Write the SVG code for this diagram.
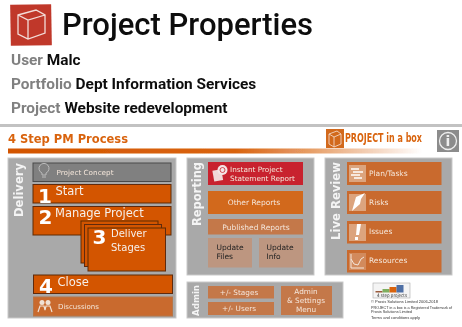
<svg xmlns="http://www.w3.org/2000/svg" width="462" height="327" viewBox="0 0 462 327">
<defs>
<linearGradient id="bar" x1="0" x2="1" y1="0" y2="0"><stop offset="0" stop-color="#d35400"/><stop offset="0.55" stop-color="#d9640f"/><stop offset="1" stop-color="#d35400" stop-opacity="0"/></linearGradient>
<filter id="soft" x="-2%" y="-2%" width="104%" height="104%"><feGaussianBlur stdDeviation="0.5"/></filter>
</defs>
<style>
text{font-family:"DejaVu Sans","Liberation Sans",sans-serif}
.head{font-family:Roboto,"Liberation Sans",sans-serif;font-weight:700}
.g{fill:#808080}.k{fill:#111}
.panel{fill:#a9a9a9;stroke:#c9c9c9;stroke-width:1}
.side{fill:#f4f4f4;font-weight:700;font-size:12px}
.dark{fill:#d35400;stroke:#5e2a08;stroke-width:1}
.soft{fill:#c4784a}
.tan{fill:#bd9680}
.lbl{fill:#f4e6da;font-size:8px}
.s7{font-size:7px}
.big{font-size:11.500px;fill:#f6f0ea}
.num{font-family:"DejaVu Sans";font-weight:700;fill:#fff;font-size:20px}
.ico{fill:none;stroke:#f4e6da;stroke-width:1}
.tiny{font-family:"Liberation Sans",sans-serif;font-size:4px;fill:#333}
</style>
<g filter="url(#soft)">
<g id="header">
<g id="logo"><rect x="10.500" y="4.500" width="41" height="41" fill="#c0392b" transform="rotate(-1 31 25)"/>
<path d="M18 15 L36 10 L45 15 L45 33 L28 39 L18 34Z M18 15 L28 20 L45 15 M28 20 L28 39" fill="none" stroke="#f3dcd8" stroke-width="1.300"/></g>
<text x="62" y="34.500" style="font-family:Roboto,sans-serif;font-weight:500" font-size="31" fill="#0c0c0c">Project Properties</text>
<text x="11" y="64.500" class="head" font-size="15.400"><tspan class="g">User</tspan> <tspan class="k">Malc</tspan></text>
<text x="11" y="88.500" class="head" font-size="15.400"><tspan class="g">Portfolio</tspan> <tspan class="k">Dept Information Services</tspan></text>
<text x="11" y="113" class="head" font-size="15.400"><tspan class="g">Project</tspan> <tspan class="k">Website redevelopment</tspan></text>
</g>
<rect x="0" y="124" width="462" height="3" fill="#c2c2c2"/>
<text x="8" y="143" font-size="11.500" font-weight="700" fill="#d9640f">4 Step PM Process</text>
<rect x="8" y="148.500" width="414" height="5" fill="url(#bar)"/>
<g id="brand"><rect x="326" y="129" width="18" height="19" fill="#d2691e"/>
<path d="M329 134 L337 131 L341 134 L341 144 L334 147 L329 144Z M329 134 L334 137 L341 134 M334 137 L334 147" fill="none" stroke="#f6e3d5" stroke-width=".8"/>
<text x="345" y="142" font-family="Liberation Sans" font-weight="700" font-size="12" fill="#d9640f" textLength="77" lengthAdjust="spacingAndGlyphs">PROJECT in a box</text></g>
<g id="info"><rect x="437" y="130" width="22" height="22" fill="#8c8c8c"/><circle cx="448" cy="141" r="8.500" fill="none" stroke="#eee" stroke-width="1.300"/><text x="448" y="146" text-anchor="middle" font-family="Liberation Serif" font-weight="700" font-size="14" fill="#eee">i</text></g>

<g id="delivery"><rect class="panel" x="8" y="158" width="168" height="160"/>
<text class="side" transform="translate(23 217) rotate(-90)" textLength="54" lengthAdjust="spacingAndGlyphs">Delivery</text></g>
<g id="concept"><rect x="33" y="163" width="138" height="18.500" fill="#808080" stroke="#4a4a4a"/>
<path d="M42 175 v-2 a5 5 0 1 1 4 0 v2z M42 177h4" fill="none" stroke="#bbb"/>
<text x="56.500" y="175" class="lbl s7" textLength="57" lengthAdjust="spacingAndGlyphs">Project Concept</text></g>
<g id="start"><rect class="dark" x="33" y="184.500" width="138" height="18.500"/><text x="38" y="203" class="num">1</text><text x="55.500" y="195" class="big">Start</text></g>
<g id="manage"><rect class="dark" x="33" y="206.500" width="138" height="28.500"/><text x="38.500" y="224" class="num">2</text><text x="55" y="217" class="big">Manage Project</text></g>
<g id="deliver"><rect class="dark" x="81" y="221" width="77" height="42"/><rect class="dark" x="84.500" y="224.500" width="77" height="42"/><rect class="dark" x="88" y="228" width="77.500" height="43"/>
<text x="92.500" y="244" class="num">3</text><text x="111" y="237" class="big" style="font-size:10px">Deliver</text><text x="111" y="250.500" class="big" style="font-size:10px">Stages</text></g>
<g id="close"><rect class="dark" x="33.500" y="275" width="139" height="18.500"/><text x="39" y="293" class="num">4</text><text x="57.500" y="285.500" class="big">Close</text></g>
<g id="discussions"><rect x="33.500" y="297" width="139" height="19" fill="#c96a2d" stroke="#b5764a"/><circle cx="42" cy="302.500" r="2.500" fill="#f0e2d6"/><circle cx="48" cy="302.500" r="2.500" fill="#f0e2d6"/><path d="M38 312 l2 -6 h4 l1 4 l1 -4 h4 l2 6" fill="none" stroke="#f0e2d6" stroke-width="1.200"/><text x="58" y="309" class="lbl s7">Discussions</text></g>

<g id="reporting"><rect class="panel" x="187" y="158" width="127" height="117"/><text class="side" transform="translate(200.500 226) rotate(-90)" textLength="64" lengthAdjust="spacingAndGlyphs">Reporting</text></g>
<g id="instant"><rect x="208" y="162" width="95" height="23" fill="#c8242f"/><rect x="213" y="170" width="9" height="11" fill="#f0d8d8" transform="rotate(-10 217 174)"/><circle cx="222.500" cy="170" r="5" fill="#f4e6e6"/><circle cx="222.500" cy="170" r="2.500" fill="none" stroke="#c8242f" stroke-width=".8"/><text x="230" y="172" class="lbl" style="font-size:7.300px">Instant Project</text><text x="230" y="181" class="lbl" style="font-size:7.300px">Statement Report</text></g>
<g id="other"><rect x="208" y="191" width="95" height="23" fill="#d2691e"/><text x="254" y="205" text-anchor="middle" class="lbl" style="font-size:7.500px">Other Reports</text></g>
<g id="published"><rect x="208" y="219" width="95" height="15.500" class="soft"/><text x="256" y="229.500" text-anchor="middle" class="lbl" style="font-size:7.500px">Published Reports</text></g>
<g id="updatefiles"><rect x="208" y="238" width="44" height="29.500" class="tan"/><text x="216.500" y="250" font-size="7.500" fill="#222">Update</text><text x="216.500" y="259" font-size="7.500" fill="#222">Files</text></g>
<g id="updateinfo"><rect x="259" y="238" width="44" height="29.500" class="tan"/><text x="266.500" y="250" font-size="7.500" fill="#222">Update</text><text x="266.500" y="259" font-size="7.500" fill="#222">Info</text></g>

<g id="admin"><rect class="panel" x="187" y="282" width="156" height="36"/><text class="side" transform="translate(199 316) rotate(-90)" style="font-size:9px" textLength="31" lengthAdjust="spacingAndGlyphs">Admin</text></g>
<g id="stages"><rect x="208" y="286" width="66" height="12.500" class="soft"/><text x="239" y="295" text-anchor="middle" class="lbl" style="font-size:7.300px">+/- Stages</text></g>
<g id="users"><rect x="208" y="302" width="66" height="13" class="soft"/><text x="239" y="311" text-anchor="middle" class="lbl" style="font-size:7.300px">+/- Users</text></g>
<g id="adminmenu"><rect x="281" y="286" width="51" height="29" class="soft"/><text x="306" y="293.500" text-anchor="middle" class="lbl" style="font-size:7.300px">Admin</text><text x="306" y="303" text-anchor="middle" class="lbl" style="font-size:7.300px">&amp; Settings</text><text x="306" y="312" text-anchor="middle" class="lbl" style="font-size:7.300px">Menu</text></g>

<g id="livereview"><rect class="panel" x="325" y="158" width="127" height="117"/><text class="side" transform="translate(340 240) rotate(-90)" textLength="78" lengthAdjust="spacingAndGlyphs">Live Review</text></g>
<g id="plan"><rect x="347" y="162" width="94.500" height="23" fill="#c96a2d"/><rect x="349" y="165" width="17" height="17" fill="#dca47e"/><path d="M351 169h8 M353 172h10 M351 175h9 M354 178h8" stroke="#fff" stroke-width="1.600"/><text x="369" y="176" class="lbl" style="font-size:7.500px">Plan/Tasks</text></g>
<g id="risks"><rect x="347" y="191" width="94.500" height="23" fill="#c96a2d"/><rect x="349" y="194" width="17" height="17" fill="#dca47e"/><path d="M365 193 L356 197 L354 204 L352 211 L360 204 L361 199Z" fill="#fff"/><text x="369" y="205" class="lbl" style="font-size:7.500px">Risks</text></g>
<g id="issues"><rect x="347" y="221" width="94.500" height="22.500" fill="#c96a2d"/><rect x="349" y="224" width="17" height="17" fill="#dca47e"/><path d="M357 224 h4 l-2 11 h-3Z M355 237 h3 v3 h-3Z" fill="#fff"/><text x="369" y="234" class="lbl" style="font-size:7.500px">Issues</text></g>
<g id="resources"><rect x="347" y="250" width="94.500" height="22.500" fill="#c96a2d"/><rect x="349" y="253" width="17" height="17" fill="#d28a5c"/><path d="M351 254v14h13 M351 259 l3 5 l4 1 l3-6 l3-2" class="ico"/><text x="369" y="263" class="lbl" style="font-size:7.500px">Resources</text></g>

<g id="stepslogo"><rect x="373" y="283" width="37" height="15" fill="#f4f4f4" stroke="#aaa" stroke-width=".6"/>
<rect x="375.500" y="291" width="7" height="1.500" fill="#9a5a3a"/><rect x="382.500" y="289" width="7" height="3.500" fill="#7fae5f"/><rect x="389.500" y="287" width="7" height="5.500" fill="#d9640f"/><rect x="396.500" y="285" width="7" height="7.500" fill="#4f6fa5"/>
<text x="377" y="297" font-size="4.800" fill="#333" textLength="30" lengthAdjust="spacingAndGlyphs">4 step projects</text></g>
<g id="legal">
<text x="371" y="303" class="tiny" textLength="67" lengthAdjust="spacingAndGlyphs">© Prosis Solutions Limited 2006-2018</text>
<text x="371" y="308.500" class="tiny" textLength="81" lengthAdjust="spacingAndGlyphs">PROJECT in a box is a Registered Trademark of</text>
<text x="371" y="313" class="tiny" textLength="41" lengthAdjust="spacingAndGlyphs">Prosis Solutions Limited</text>
<text x="371" y="318.500" class="tiny" textLength="49" lengthAdjust="spacingAndGlyphs">Terms and conditions apply</text>
</g>
</g>
</svg>
